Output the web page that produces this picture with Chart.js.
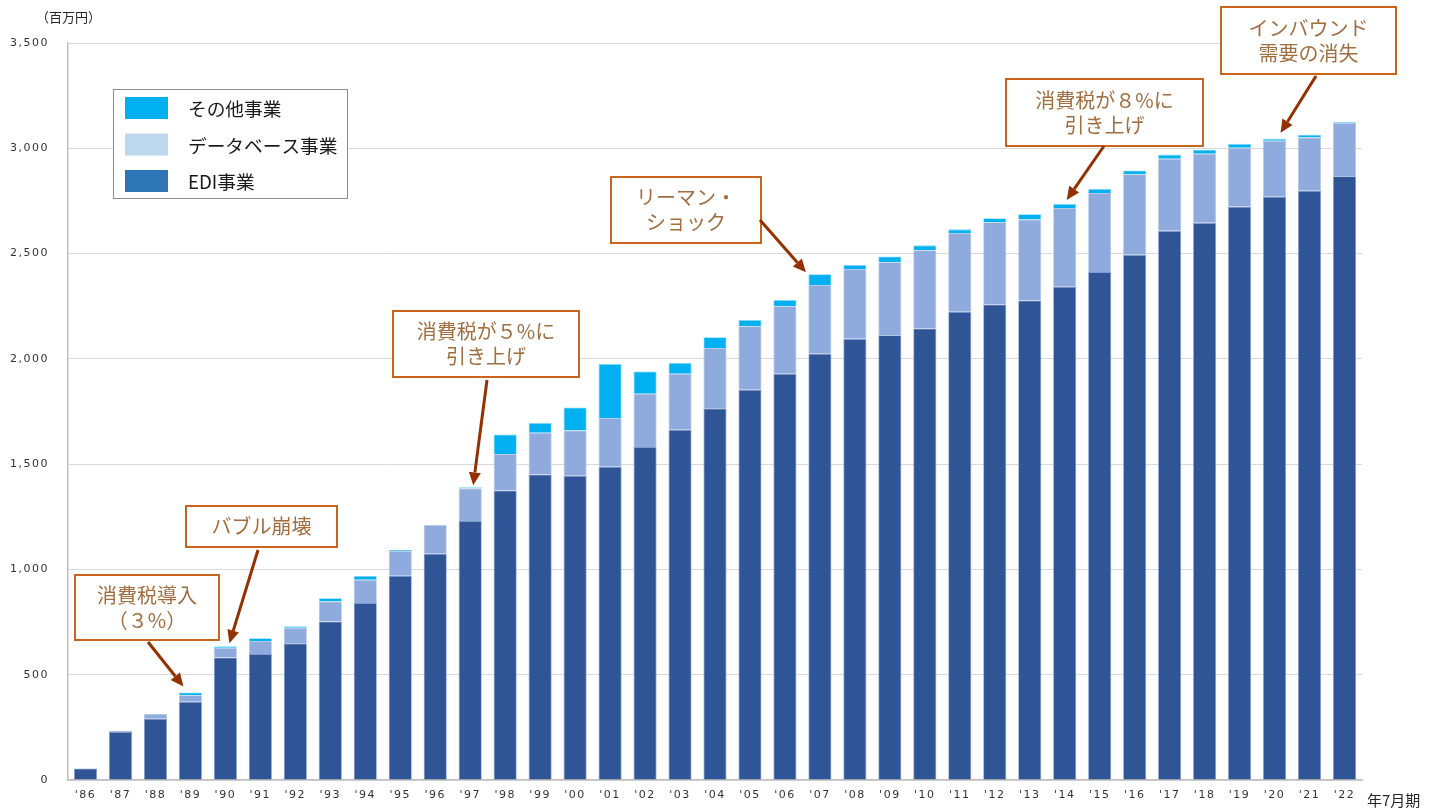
<!DOCTYPE html>
<html>
<head>
<meta charset="utf-8">
<script src="https://cdn.jsdelivr.net/npm/chart.js@4"></script>
<style>
  html, body { margin: 0; padding: 0; background: #fff; }
  #wrap { position: relative; width: 1435px; height: 809px; }
</style>
</head>
<body>
<div id="wrap"><canvas id="salesChart" width="1435" height="809"></canvas></div>
<script>
// 年7月期
var years = ["'86","'87","'88","'89","'90","'91","'92","'93","'94","'95","'96","'97","'98","'99","'00","'01","'02","'03","'04","'05","'06","'07","'08","'09","'10","'11","'12","'13","'14","'15","'16","'17","'18","'19","'20","'21","'22"];

// 百万円
var ediSales = [55, 228, 291, 372, 582, 598, 649, 753, 840, 970, 1075, 1230, 1375, 1451, 1445, 1488, 1582, 1663, 1765, 1853, 1929, 2024, 2095, 2112, 2144, 2224, 2258, 2277, 2343, 2412, 2494, 2608, 2646, 2723, 2770, 2798, 2867];
var dbSales = [0, 6, 22, 31, 46, 62, 74, 95, 111, 118, 136, 155, 173, 198, 215, 231, 252, 266, 286, 302, 321, 327, 332, 347, 372, 374, 391, 385, 373, 376, 383, 342, 328, 279, 266, 253, 253];
var otherSales = [0, 0, 0, 13, 7, 13, 7, 15, 18, 4, 0, 5, 93, 46, 109, 256, 106, 52, 52, 29, 29, 51, 19, 27, 23, 17, 19, 25, 20, 19, 18, 20, 19, 19, 9, 13, 4];

var yTicks = [0, 500, 1000, 1500, 2000, 2500, 3000, 3500];

var legendItems = [
    {label: "その他事業", swatch: "#00B0F0"},
    {label: "データベース事業", swatch: "#BDD7EE"},
    {label: "EDI事業", swatch: "#2E75B6"}
];

// callouts: box in pixels, arrow points at the top of a bar
var callouts = [
    {lines: ["消費税導入", "（３%）"], box: [75, 575, 144, 65], from: [148, 642], idx: 3, dx: -7, dy: -6},
    {lines: ["バブル崩壊"], box: [186, 506, 151, 41], from: [258, 550], idx: 4, dx: 4, dy: -3},
    {lines: ["消費税が５%に", "引き上げ"], box: [393, 311, 186, 66], from: [487, 380], idx: 11, dx: 3, dy: -2},
    {lines: ["リーマン・", "ショック"], box: [611, 177, 150, 66], from: [760, 220], idx: 21, dx: -14, dy: -2},
    {lines: ["消費税が８%に", "引き上げ"], box: [1006, 79, 197, 67], from: [1104, 146], idx: 28, dx: 2, dy: -4},
    {lines: ["インバウンド", "需要の消失"], box: [1221, 7, 175, 67], from: [1316, 76], idx: 34, dx: 6, dy: -6}
];

var jpFont = "'Noto Sans CJK JP', 'Noto Sans', sans-serif";

function total(i) {
    return ediSales[i] + dbSales[i] + otherSales[i];
}

function drawArrow(ctx, x1, y1, x2, y2) {
    var ang = Math.atan2(y2 - y1, x2 - x1);
    var head = 13, half = 6;
    var bx = x2 - head * Math.cos(ang), by = y2 - head * Math.sin(ang);
    ctx.strokeStyle = "#943100";
    ctx.fillStyle = "#943100";
    ctx.lineWidth = 3;
    ctx.beginPath();
    ctx.moveTo(x1, y1);
    ctx.lineTo(bx, by);
    ctx.stroke();
    ctx.beginPath();
    ctx.moveTo(x2, y2);
    ctx.lineTo(bx + half * Math.sin(ang), by - half * Math.cos(ang));
    ctx.lineTo(bx - half * Math.sin(ang), by + half * Math.cos(ang));
    ctx.closePath();
    ctx.fill();
}

var extrasPlugin = {
    id: "extras",
    beforeDraw: function(chart) {
        chart.ctx.letterSpacing = "1.5px";
    },
    afterDraw: function(chart) {
        var ctx = chart.ctx;
        var xs = chart.scales.x, ys = chart.scales.y;
        ctx.save();
        ctx.letterSpacing = "0px";

        // unit labels
        ctx.fillStyle = "#262626";
        ctx.font = "13px " + jpFont;
        ctx.textBaseline = "middle";
        ctx.textAlign = "left";
        ctx.fillText("（百万円）", 36, 17);
        ctx.font = "15px " + jpFont;
        ctx.fillText("年7月期", 1367, 800);

        // legend
        ctx.fillStyle = "#fff";
        ctx.fillRect(113.5, 89.5, 234, 109);
        ctx.strokeStyle = "#8C8C8C";
        ctx.lineWidth = 1;
        ctx.strokeRect(113.5, 89.5, 234, 109);
        ctx.font = "18.7px " + jpFont;
        legendItems.forEach(function(item, k) {
            var top = 97 + k * 36.5;
            ctx.fillStyle = item.swatch;
            ctx.fillRect(125, top, 43, 22);
            ctx.fillStyle = "#1a1a1a";
            ctx.fillText(item.label, 188, top + 12);
        });

        // callouts
        callouts.forEach(function(c) {
            var b = c.box;
            ctx.fillStyle = "#fff";
            ctx.fillRect(b[0], b[1], b[2], b[3]);
            ctx.strokeStyle = "#C8641E";
            ctx.lineWidth = 2;
            ctx.strokeRect(b[0], b[1], b[2], b[3]);
            ctx.fillStyle = "#A26E40";
            ctx.font = "20px " + jpFont;
            ctx.textAlign = "center";
            var cy = b[1] + b[3] / 2 - (c.lines.length - 1) * 12.5;
            c.lines.forEach(function(t, n) {
                ctx.fillText(t, b[0] + b[2] / 2, cy + n * 25);
            });
            var tx = xs.getPixelForValue(c.idx) + c.dx;
            var ty = ys.getPixelForValue(total(c.idx)) + c.dy;
            drawArrow(ctx, c.from[0], c.from[1], tx, ty);
        });
        ctx.restore();
    }
};

var ctx = document.getElementById("salesChart").getContext("2d");
var chart = new Chart(ctx, {
    type: "bar",
    data: {
        labels: years,
        datasets: [
            {label: "EDI事業", data: ediSales, backgroundColor: "#2F5597", borderColor: "#7F9BD0", borderWidth: 0.8},
            {label: "データベース事業", data: dbSales, backgroundColor: "#8FAADC", borderColor: "#B4C7E7", borderWidth: 0.8},
            {label: "その他事業", data: otherSales, backgroundColor: "#00B0F0", borderColor: "#7FD7F7", borderWidth: 0.8}
        ]
    },
    options: {
        responsive: false,
        animation: false,
        layout: {padding: {left: 0, top: 43, right: 73, bottom: 0}},
        datasets: {bar: {barPercentage: 0.66, categoryPercentage: 1}},
        plugins: {
            legend: {display: false},
            tooltip: {enabled: false}
        },
        scales: {
            x: {
                stacked: true,
                grid: {display: false, drawTicks: false},
                border: {color: "#BFBFBF", width: 1.5},
                ticks: {color: "#333333", font: {family: "'DejaVu Sans'", size: 11}, padding: 9, maxRotation: 0, autoSkip: false},
                afterFit: function(s) { s.height = 29; }
            },
            y: {
                stacked: true,
                min: 0,
                max: 3500,
                afterBuildTicks: function(s) { s.ticks = yTicks.map(function(v) { return {value: v}; }); },
                grid: {color: "#D9D9D9", lineWidth: 1, drawTicks: false},
                border: {color: "#BFBFBF", width: 1.5},
                ticks: {
                    color: "#333333",
                    font: {family: "'DejaVu Sans'", size: 11},
                    padding: 19,
                    callback: function(v) { return v.toLocaleString("en-US"); }
                },
                afterFit: function(s) { s.width = 68; }
            }
        }
    },
    plugins: [extrasPlugin]
});
</script>
</body>
</html>
